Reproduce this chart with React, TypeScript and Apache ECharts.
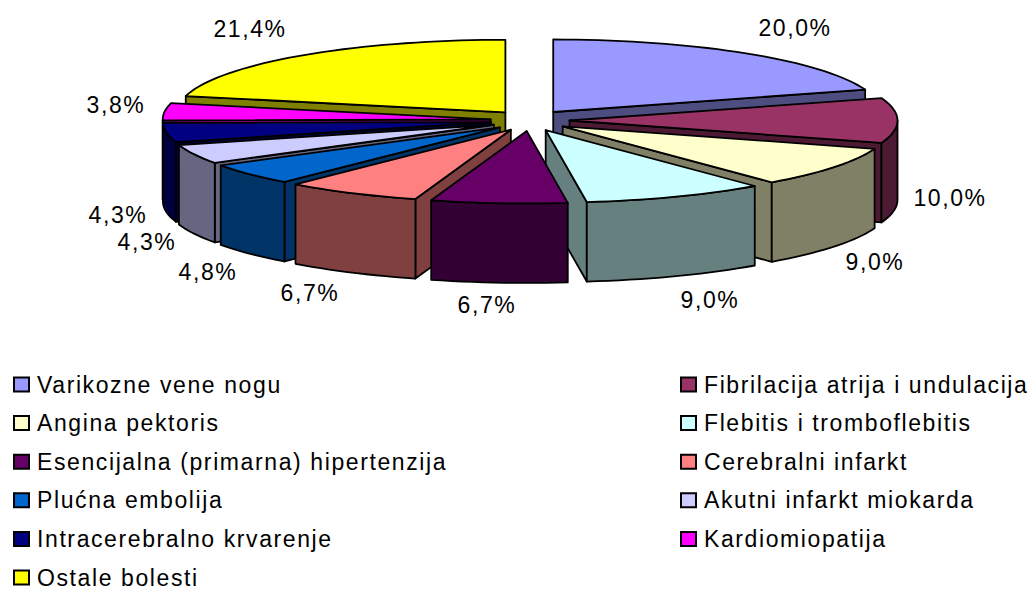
import React, { useEffect, useRef } from "react";
import * as echarts from "echarts";

const categories = [
  "Varikozne vene nogu",
  "Fibrilacija atrija i undulacija",
  "Angina pektoris",
  "Flebitis i tromboflebitis",
  "Esencijalna (primarna) hipertenzija",
  "Cerebralni infarkt",
  "Plućna embolija",
  "Akutni infarkt miokarda",
  "Intracerebralno krvarenje",
  "Kardiomiopatija",
  "Ostale bolesti",
];
const shares = [20.0, 10.0, 9.0, 9.0, 6.7, 6.7, 4.8, 4.3, 4.3, 3.8, 21.4];
const topColors = ["#9999FF", "#993366", "#FFFFCC", "#CCFFFF", "#660066", "#FF8080", "#0066CC", "#CCCCFF", "#000080", "#FF00FF", "#FFFF00"];
const wallColors = ["#4D4D80", "#4D1A33", "#808066", "#668080", "#330033", "#804040", "#003366", "#666680", "#000040", "#800080", "#808000"];
const labelCenters = [
  [795, 28], [950, 198], [875, 262], [710, 300], [487, 305], [310, 293],
  [208, 272], [147, 242], [118, 215], [116, 105], [250, 29],
];
const drawOrder = [0, 10, 9, 1, 8, 2, 7, 3, 6, 5, 4];

const CX = 530, CY = 120.5, EX = 39.5, EY = 10.5, RX = 328, RY = 72.5, DEPTH = 79.5;
const LINE = { stroke: "#000", lineWidth: 1.8, lineJoin: "round" as const };
const FONT = "Liberation Sans";
const rad = (d: number) => (d * Math.PI) / 180;

const starts: number[] = [];
shares.reduce((acc, v, i) => { starts[i] = acc; return acc + v; }, 0);

function sliceChildren(i: number) {
  const a0 = (starts[i] / 100) * 360;
  const a1 = a0 + (shares[i] / 100) * 360;
  const mid = (a0 + a1) / 2;
  const ax = CX + EX * Math.sin(rad(mid));
  const ay = CY - EY * Math.cos(rad(mid));
  const pt = (a: number, d = 0) => [ax + RX * Math.sin(rad(a)), ay - RY * Math.cos(rad(a)) + d];
  const arc = (from: number, to: number, d = 0) => {
    const n = Math.max(2, Math.ceil((to - from) / 2));
    return Array.from({ length: n + 1 }, (_, k) => pt(from + ((to - from) * k) / n, d));
  };
  const fill = wallColors[i];
  const kids: any[] = [];
  const radial = (a: number) => {
    kids.push({
      type: "polygon",
      shape: { points: [[ax, ay], pt(a), pt(a, DEPTH), [ax, ay + DEPTH]] },
      style: { fill, ...LINE },
    });
  };
  if (Math.sin(rad(a0)) < -1e-6) radial(a0);
  if (Math.sin(rad(a1)) > 1e-6) radial(a1);
  const f0 = Math.max(a0, 90), f1 = Math.min(a1, 270);
  if (f1 > f0) {
    kids.push({
      type: "polygon",
      shape: { points: [...arc(f0, f1), ...arc(f0, f1, DEPTH).reverse()] },
      style: { fill, ...LINE },
    });
  }
  kids.push({
    type: "polygon",
    shape: { points: [[ax, ay], ...arc(a0, a1)] },
    style: { fill: topColors[i], ...LINE },
  });
  kids.push({
    type: "text",
    style: {
      x: labelCenters[i][0],
      y: labelCenters[i][1],
      text: shares[i].toFixed(1).replace(".", ",") + "%",
      fill: "#000",
      font: `23px "${FONT}"`,
      align: "center",
      verticalAlign: "middle",
    },
  });
  return kids;
}

const legendBase = {
  orient: "vertical" as const,
  padding: 0,
  height: 240,
  itemWidth: 15,
  itemHeight: 14,
  itemGap: 15.6,
  icon: "rect",
  selectedMode: false,
  itemStyle: { borderColor: "#000", borderWidth: 2 },
  textStyle: { fontFamily: FONT, fontSize: 23, color: "#000", padding: [0, 0, 0, 3], lineHeight: 23 },
};

export default function App() {
  const ref = useRef<HTMLDivElement>(null);
  useEffect(() => {
    document.body.style.margin = "0";
    const chart = echarts.init(ref.current!, undefined, { renderer: "svg" });
    chart.setOption({
      animation: false,
      backgroundColor: "#fff",
      legend: [
        { ...legendBase, left: 13, top: 373, data: categories.filter((_, i) => i % 2 === 0) },
        { ...legendBase, left: 680, top: 373, data: categories.filter((_, i) => i % 2 === 1) },
      ],
      series: drawOrder.map((i) => ({
        type: "custom",
        name: categories[i],
        coordinateSystem: "none",
        itemStyle: { color: topColors[i] },
        data: [shares[i]],
        renderItem: () => ({ type: "group", children: sliceChildren(i) }),
      })),
    });
    return () => chart.dispose();
  }, []);
  return <div ref={ref} style={{ width: 1028, height: 590, letterSpacing: "1.6px" }} />;
}
